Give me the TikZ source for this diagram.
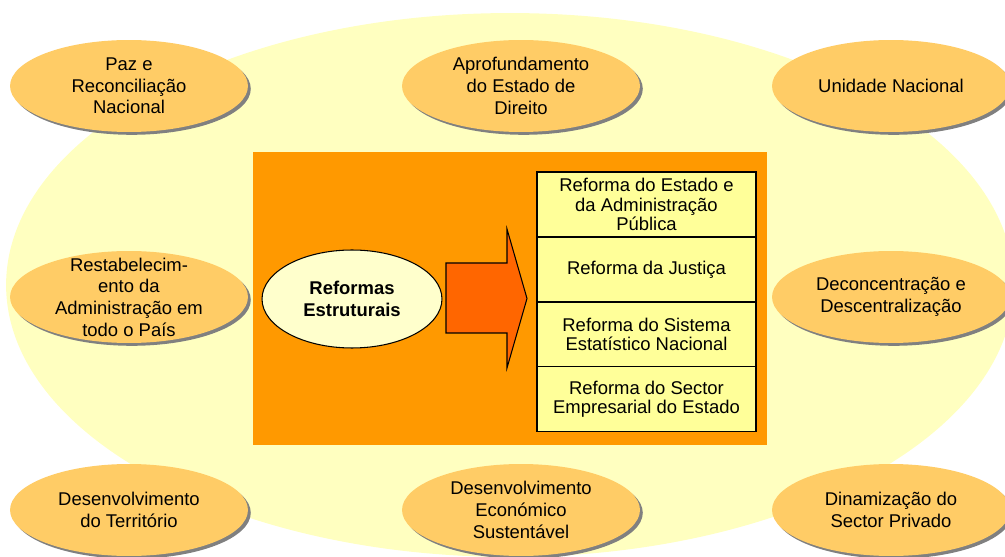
\documentclass[tikz,border=0pt]{standalone}
\usepackage{fontspec}
\setmainfont{Liberation Sans}
\usetikzlibrary{positioning,shapes.geometric,shadows}

\definecolor{bgyellow}{HTML}{FFFFC0}
\definecolor{goalfill}{HTML}{FFCC66}
\definecolor{panelfill}{HTML}{FF9900}
\definecolor{arrowfill}{HTML}{FF6600}
\definecolor{boxfill}{HTML}{FFFF99}
\definecolor{corefill}{HTML}{FFFFCC}

\tikzset{
  goal/.style={ellipse, fill=goalfill, minimum width=4.76cm, minimum height=1.84cm,
    inner sep=0pt, drop shadow={shadow xshift=1.6pt, shadow yshift=-1.6pt, fill=black!50, opacity=1}},
  goaltext/.style={align=center, font=\fontsize{10.5}{12.3}\selectfont},
  reform/.style={draw, line width=0.6pt, fill=boxfill, minimum width=4.38cm, minimum height=1.3cm,
    inner sep=0pt, outer sep=0pt, align=center, font=\fontsize{10.5}{11.1}\selectfont},
}

\begin{document}
\begin{tikzpicture}[x=0.02cm, y=-0.02cm]
\useasboundingbox (0,0) rectangle (1005,557);
\clip (0,0) rectangle (1005,557);

%Background
\fill[bgyellow] (510,285) ellipse [x radius=10.08cm, y radius=5.44cm];

%Goals around the centre
\node[goal] (paz) at (129,86) {};
\node[goaltext] (pazt) at (paz) {Paz e\\Reconciliação\\Nacional};
\node[goal] (dir) at (521,86) {};
\node[goaltext] (dirt) at (dir) {Aprofundamento\\do Estado de\\Direito};
\node[goal] (uni) at (891,86) {};
\node[goaltext] (unit) at (uni) {Unidade Nacional};

\node[goal] (adm) at (129,297) {};
\node[goaltext] (admt) at (adm) {Restabelecim-\\ento da\\Administração em\\todo o País};
\node[goal] (dec) at (891,297) {};
\node[goaltext] (dect) at (dec) {Deconcentração e\\Descentralização};

\node[goal] (ter) at (129,510) {};
\node[goaltext] (tert) at (ter) {Desenvolvimento\\do Território};
\node[goal] (eco) at (521,510) {};
\node[goaltext] (ecot) at (eco) {Desenvolvimento\\Económico\\Sustentável};
\node[goal] (pri) at (891,510) {};
\node[goaltext] (prit) at (pri) {Dinamização do\\Sector Privado};

%Central panel
\node[fill=panelfill, minimum width=10.28cm, minimum height=5.86cm, inner sep=0pt] (panel) at (510,298.5) {};
\node[ellipse, draw, line width=0.6pt, fill=corefill, minimum width=3.6cm, minimum height=1.96cm,
  inner sep=0pt, align=center, font=\bfseries\fontsize{10.5}{12.5}\selectfont] (core) at (352,299) {Reformas\\Estruturais};

%Arrow
\draw[line width=0.6pt, fill=arrowfill] (446,263) -- (507,263) -- (507,229) -- (527,298.5)
  -- (507,368) -- (507,333) -- (446,333) -- cycle;

%Reforms
\node[reform] (r1) at (646.5,204.5) {Reforma do Estado e\\da Administração\\Pública};
\node[reform, below=0pt of r1] (r2) {Reforma da Justiça};
\node[reform, below=0pt of r2] (r3) {Reforma do Sistema\\Estatístico Nacional};
\node[reform, below=0pt of r3] (r4) {Reforma do Sector\\Empresarial do Estado};

\end{tikzpicture}
\end{document}
